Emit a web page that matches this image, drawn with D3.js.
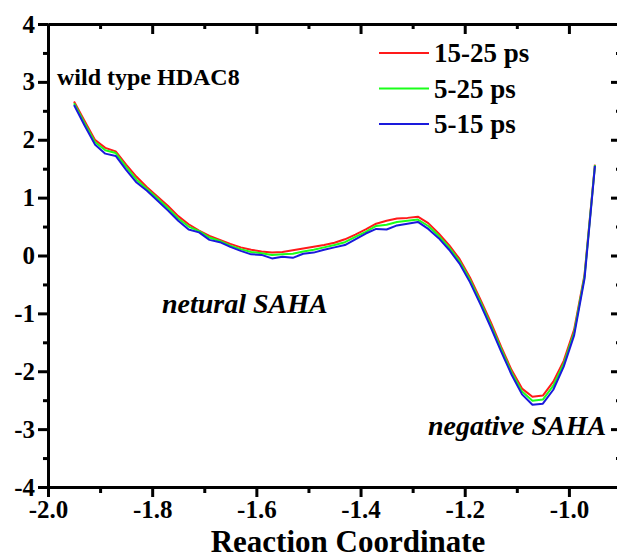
<!DOCTYPE html>
<html>
<head>
<meta charset="utf-8">
<script src="https://cdn.jsdelivr.net/npm/d3@7/dist/d3.min.js"></script>
<style>
  html, body { margin: 0; padding: 0; background: #fff; }
  svg { display: block; }
  svg text { font-family: "Liberation Serif", "Times New Roman", serif !important; font-weight: bold; fill: #000; }
</style>
</head>
<body>
<svg id="chart" width="617" height="559"></svg>
<script>
// Reaction coordinate samples
const coord = [-1.95, -1.93, -1.91, -1.89, -1.87, -1.85, -1.83, -1.81, -1.79, -1.77,
               -1.75, -1.73, -1.71, -1.69, -1.67, -1.65, -1.63, -1.61, -1.59, -1.57,
               -1.55, -1.53, -1.51, -1.49, -1.47, -1.45, -1.43, -1.41, -1.39, -1.37,
               -1.35, -1.33, -1.31, -1.29, -1.27, -1.25, -1.23, -1.21, -1.19, -1.17,
               -1.15, -1.13, -1.11, -1.09, -1.07, -1.05, -1.03, -1.01, -0.99, -0.97, -0.95];

// Free energy profiles for each averaging window
const pmf15to25 = [2.66, 2.33, 2.00, 1.86, 1.80, 1.57, 1.36, 1.18, 1.02, 0.86,
                   0.68, 0.54, 0.43, 0.34, 0.27, 0.20, 0.14, 0.10, 0.07, 0.05,
                   0.06, 0.09, 0.12, 0.15, 0.18, 0.22, 0.28, 0.36, 0.45, 0.55,
                   0.60, 0.64, 0.65, 0.67, 0.56, 0.38, 0.18, -0.06, -0.38, -0.76,
                   -1.15, -1.58, -1.98, -2.30, -2.44, -2.42, -2.18, -1.82, -1.28, -0.33, 1.57];
const pmf5to25 = [2.63, 2.29, 1.96, 1.82, 1.77, 1.53, 1.31, 1.15, 0.99, 0.82,
                  0.64, 0.50, 0.42, 0.31, 0.25, 0.17, 0.11, 0.06, 0.04, 0.01,
                  0.02, 0.03, 0.07, 0.10, 0.14, 0.18, 0.23, 0.32, 0.41, 0.51,
                  0.53, 0.58, 0.60, 0.62, 0.51, 0.34, 0.14, -0.10, -0.42, -0.80,
                  -1.20, -1.62, -2.02, -2.35, -2.51, -2.49, -2.25, -1.87, -1.33, -0.36, 1.56];
const pmf5to15 = [2.60, 2.25, 1.92, 1.76, 1.72, 1.48, 1.26, 1.12, 0.95, 0.78,
                  0.60, 0.45, 0.40, 0.27, 0.23, 0.15, 0.08, 0.02, 0.01, -0.05,
                  -0.02, -0.04, 0.03, 0.05, 0.10, 0.14, 0.18, 0.28, 0.38, 0.46,
                  0.45, 0.52, 0.55, 0.58, 0.46, 0.30, 0.10, -0.14, -0.46, -0.84,
                  -1.24, -1.66, -2.06, -2.40, -2.58, -2.56, -2.32, -1.92, -1.38, -0.40, 1.55];

const seriesNames = ["15-25 ps", "5-25 ps", "5-15 ps"];
const seriesColors = ["#ff1a1a", "#1aff1a", "#1a1adc"];
const seriesValues = [pmf15to25, pmf5to25, pmf5to15];

const xTicks = [-2.0, -1.8, -1.6, -1.4, -1.2, -1.0];
const xMinor = [-1.9, -1.7, -1.5, -1.3, -1.1];
const yTicks = [-4, -3, -2, -1, 0, 1, 2, 3, 4];
const yMinor = [-3.5, -2.5, -1.5, -0.5, 0.5, 1.5, 2.5, 3.5];

const svg = d3.select("#chart");
const plotLeft = 48, plotRight = 621, plotTop = 24, plotBottom = 487;

const x = d3.scaleLinear().domain([-2.0, -0.9]).range([plotLeft, plotRight]);
const y = d3.scaleLinear().domain([-4, 4]).range([plotBottom, plotTop]);

// Curves
const line = d3.line().x(d => x(d[0])).y(d => y(d[1]));
seriesValues.forEach((vals, i) => {
  svg.append("path")
    .attr("d", line(coord.map((c, k) => [c, vals[k]])))
    .attr("fill", "none")
    .attr("stroke", seriesColors[i])
    .attr("stroke-width", 2)
    .attr("stroke-linejoin", "round");
});

// Axes
const fmtX = d => d3.format(".1f")(d).replace("−", "-");
const fmtY = d => String(d).replace("−", "-");

function styleAxis(g) {
  g.attr("font-family", null).attr("font-size", null);
  g.select(".domain").attr("stroke", "#000").attr("stroke-width", 3);
  g.selectAll(".tick line").attr("stroke", "#000").attr("stroke-width", 3);
  g.selectAll("text").style("font-size", "25px");
}

// bottom
svg.append("g").attr("transform", `translate(0,${plotBottom})`)
  .call(d3.axisBottom(x).tickValues(xTicks).tickFormat(fmtX).tickSize(10).tickSizeOuter(0).tickPadding(3))
  .call(styleAxis);
svg.append("g").attr("transform", `translate(0,${plotBottom})`)
  .call(d3.axisBottom(x).tickValues(xMinor).tickFormat("").tickSize(6).tickSizeOuter(0))
  .call(styleAxis);
// top
svg.append("g").attr("transform", `translate(0,${plotTop})`)
  .call(d3.axisBottom(x).tickValues(xTicks).tickFormat("").tickSize(10).tickSizeOuter(0))
  .call(styleAxis);
svg.append("g").attr("transform", `translate(0,${plotTop})`)
  .call(d3.axisBottom(x).tickValues(xMinor).tickFormat("").tickSize(5).tickSizeOuter(0))
  .call(styleAxis);
// left
svg.append("g").attr("transform", `translate(${plotLeft},0)`)
  .call(d3.axisLeft(y).tickValues(yTicks).tickFormat(fmtY).tickSize(10).tickSizeOuter(0).tickPadding(3))
  .call(styleAxis);
svg.append("g").attr("transform", `translate(${plotLeft},0)`)
  .call(d3.axisLeft(y).tickValues(yMinor).tickFormat("").tickSize(5).tickSizeOuter(0))
  .call(styleAxis);
// right
svg.append("g").attr("transform", `translate(${plotRight},0)`)
  .call(d3.axisLeft(y).tickValues(yTicks).tickFormat("").tickSize(10).tickSizeOuter(0))
  .call(styleAxis);
svg.append("g").attr("transform", `translate(${plotRight},0)`)
  .call(d3.axisLeft(y).tickValues(yMinor).tickFormat("").tickSize(5).tickSizeOuter(0))
  .call(styleAxis);

// Axis title
svg.append("text")
  .attr("x", 348).attr("y", 552)
  .attr("text-anchor", "middle")
  .style("font-size", "31px")
  .text("Reaction Coordinate");

// Annotations
svg.append("text").attr("x", 57).attr("y", 85).style("font-size", "24px").text("wild type HDAC8");
svg.append("text").attr("x", 162).attr("y", 313).style("font-size", "28px")
  .style("font-style", "italic").text("netural SAHA");
svg.append("text").attr("x", 428).attr("y", 435).style("font-size", "28px")
  .style("font-style", "italic").text("negative SAHA");

// Legend
const legend = svg.append("g");
seriesNames.forEach((name, i) => {
  const ly = 53 + i * 35.5;
  legend.append("line")
    .attr("x1", 379).attr("x2", 429).attr("y1", ly).attr("y2", ly)
    .attr("stroke", seriesColors[i]).attr("stroke-width", 2);
  legend.append("text")
    .attr("x", 434).attr("y", ly + 9)
    .style("font-size", "27px")
    .text(name);
});
</script>
</body>
</html>
